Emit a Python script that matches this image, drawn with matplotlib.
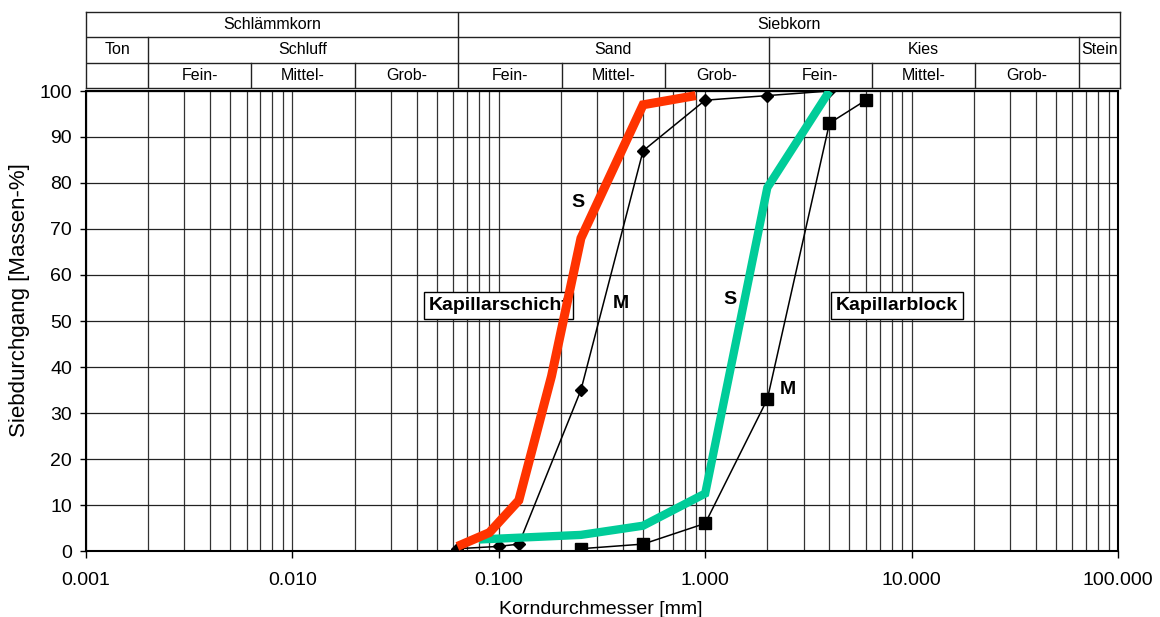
import matplotlib
matplotlib.use('Agg')
import matplotlib.pyplot as plt
from matplotlib.ticker import LogLocator, FixedLocator, NullFormatter
import numpy as np

plt.rcParams['font.family'] = ['Liberation Sans', 'DejaVu Sans']

# Kapillarschicht (S = thick red, M = thin black with diamonds)
schicht_s_x = [0.063, 0.09, 0.125, 0.18, 0.25, 0.5, 0.9]
schicht_s_y = [1, 4, 11, 38, 68, 97, 99]
schicht_m_x = [0.063, 0.1, 0.125, 0.25, 0.5, 1.0, 2.0, 4.0]
schicht_m_y = [0.5, 1, 1.5, 35, 87, 98, 99, 100]

# Kapillarblock (S = thick green, M = thin black with squares)
block_s_x = [0.08, 0.25, 0.5, 1.0, 2.0, 4.0]
block_s_y = [2.5, 3.5, 5.5, 12.5, 79, 100]
block_m_x = [0.25, 0.5, 1.0, 2.0, 4.0, 6.0]
block_m_y = [0.5, 1.5, 6, 33, 93, 98]

# header table (grain size classes)
row2_bounds = [0.001, 0.063, 100]
row2_labels = ['Schlämmkorn', 'Siebkorn']
row1_bounds = [0.001, 0.002, 0.063, 2, 63, 100]
row1_labels = ['Ton', 'Schluff', 'Sand', 'Kies', 'Stein']
row0_bounds = [0.001, 0.002, 0.0063, 0.02, 0.063, 0.2, 0.63, 2, 6.3, 20, 63, 100]
row0_labels = ['', 'Fein-', 'Mittel-', 'Grob-', 'Fein-', 'Mittel-', 'Grob-',
               'Fein-', 'Mittel-', 'Grob-', '']

x_ticks = [0.001, 0.01, 0.1, 1, 10, 100]
y_ticks = list(range(0, 101, 10))

W, H = 1160, 617
fig = plt.figure(figsize=(W / 100, H / 100), dpi=100)
ax = fig.add_axes([86 / W, 1 - 551 / H, 1032 / W, 460 / H])
hd = fig.add_axes([86 / W, 1 - 88 / H, 1034 / W, 76 / H])

# --- header ---
hd.set_xscale('log')
hd.set_xlim(0.001, 100)
hd.set_ylim(0, 3)
hd.set_xticks([])
hd.set_yticks([])
hd.xaxis.set_minor_locator(FixedLocator([]))
for sp in hd.spines.values():
    sp.set_linewidth(1.0)
    sp.set_color('#222222')
for r in (1, 2):
    hd.axhline(r, color='#222222', lw=1.0)
for r, bounds, labels in [(0, row0_bounds, row0_labels),
                          (1, row1_bounds, row1_labels),
                          (2, row2_bounds, row2_labels)]:
    for b in bounds[1:-1]:
        hd.plot([b, b], [r, r + 1], color='#222222', lw=1.0)
    for i, lab in enumerate(labels):
        xc = np.sqrt(bounds[i] * bounds[i + 1])
        hd.text(xc, r + 0.5, lab, ha='center', va='center', fontsize=11.5)

# --- main plot ---
ax.set_xscale('log')
ax.set_xlim(0.001, 100)
ax.set_ylim(0, 100)
ax.xaxis.set_major_locator(FixedLocator(x_ticks))
ax.set_xticklabels(['%.3f' % v for v in x_ticks])
ax.xaxis.set_minor_locator(LogLocator(base=10, subs=np.arange(2, 10)))
ax.xaxis.set_minor_formatter(NullFormatter())
ax.set_yticks(y_ticks)
ax.tick_params(axis='x', which='major', length=5, width=1, pad=10, labelsize=14)
ax.tick_params(axis='x', which='minor', length=0)
ax.tick_params(axis='y', length=4, width=1, pad=6, labelsize=14)
ax.grid(True, which='both', axis='x', color='#333333', lw=0.9)
ax.grid(True, which='major', axis='y', color='#222222', lw=0.9)
ax.set_axisbelow(True)
for sp in ax.spines.values():
    sp.set_linewidth(1.5)
    sp.set_color('black')

ax.plot(schicht_m_x, schicht_m_y, color='black', lw=1.1, marker='D', ms=6.5, zorder=3)
ax.plot(block_m_x, block_m_y, color='black', lw=1.1, marker='s', ms=8, zorder=3)
ax.plot(block_s_x, block_s_y, color='#00CC99', lw=6, solid_capstyle='butt',
        solid_joinstyle='miter', zorder=4)

box = dict(boxstyle='square,pad=0.25', facecolor='white', edgecolor='black', lw=1)
ax.text(0.0456, 53.4, 'Kapillarschicht', fontsize=14, fontweight='bold',
        ha='left', va='center', bbox=box, zorder=5)
ax.text(4.3, 53.4, 'Kapillarblock', fontsize=14, fontweight='bold',
        ha='left', va='center', bbox=box, zorder=5)

ax.plot(schicht_s_x, schicht_s_y, color='#FF3300', lw=6.5, solid_capstyle='butt',
        solid_joinstyle='miter', zorder=6)

ax.text(0.242, 75.7, 'S', fontsize=14, fontweight='bold', ha='center', va='center')
ax.text(0.391, 53.7, 'M', fontsize=14, fontweight='bold', ha='center', va='center')
ax.text(1.318, 54.6, 'S', fontsize=14, fontweight='bold', ha='center', va='center')
ax.text(2.52, 35.2, 'M', fontsize=14, fontweight='bold', ha='center', va='center')

fig.text(601 / W, 1 - 614 / H, 'Korndurchmesser [mm]', fontsize=14,
         ha='center', va='baseline')
fig.text(20 / W, 1 - 300 / H, 'Siebdurchgang [Massen-%]', fontsize=16,
         rotation=90, ha='center', va='center')

fig.savefig('out.png', dpi=100)
